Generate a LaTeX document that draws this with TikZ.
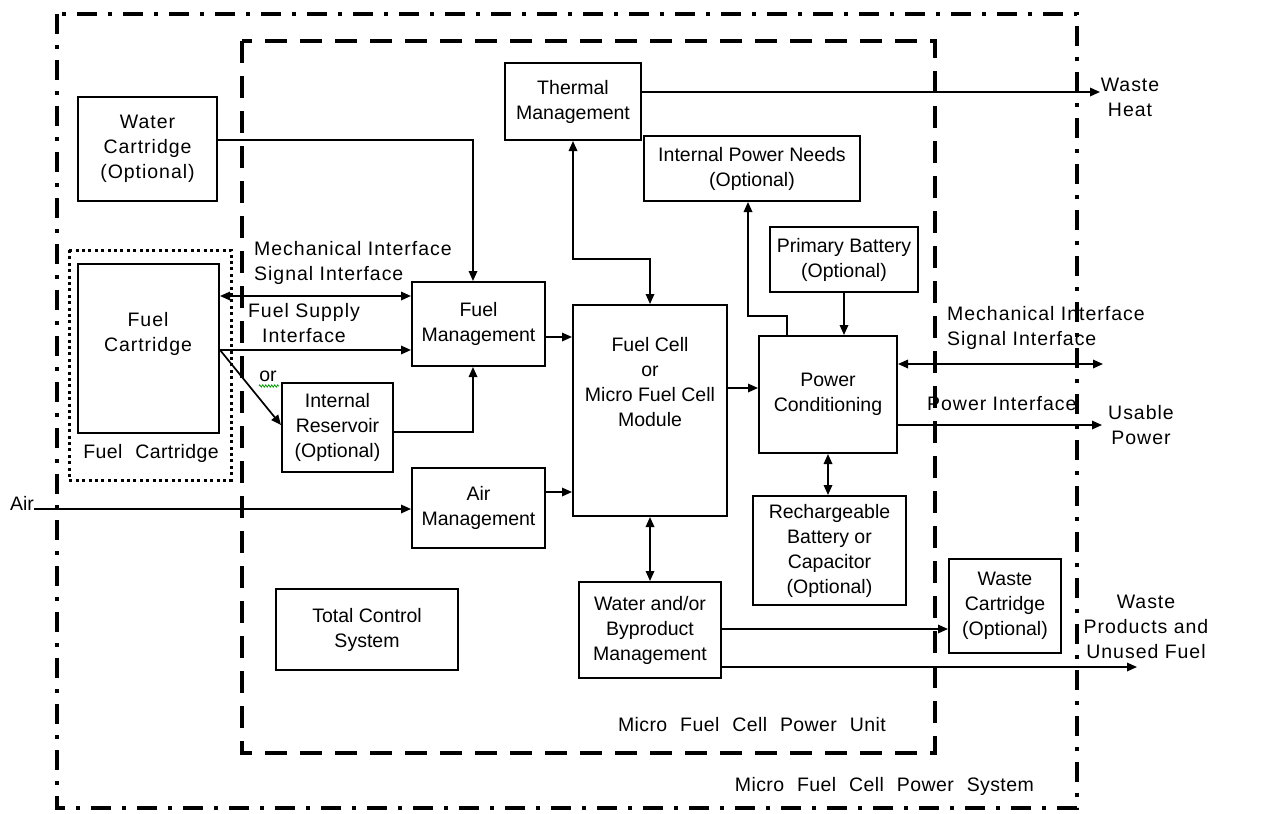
\documentclass[tikz,border=0pt]{standalone}
\usepackage{fontspec}
\setmainfont{Liberation Sans}
\usetikzlibrary{arrows.meta,decorations.pathmorphing}
\newcommand\mywidesp{\spaceskip 13pt plus 1pt\relax}
\begin{document}
\begin{tikzpicture}[x=1pt,y=-1pt,
  every node/.style={font=\fontsize{19.5}{25}\selectfont, align=center, inner sep=0pt},
  spaced/.style={font=\fontsize{19.5}{25}\selectfont\addfontfeature{LetterSpace=5}},
  widespaced/.style={font=\fontsize{19.5}{25}\selectfont\addfontfeature{LetterSpace=2}\mywidesp},
  box/.style={draw, line width=2pt, rectangle},
  arr/.style={line width=1.7pt, -{Triangle[length=10pt,width=8.5pt]}},
  dbl/.style={line width=1.7pt, {Triangle[length=10pt,width=8.5pt]}-{Triangle[length=10pt,width=8.5pt]}},
  sysframe/.style={line width=3.5pt, dash pattern=on 20pt off 11pt on 4pt off 11pt},
  unitframe/.style={line width=3.5pt, dash pattern=on 22pt off 13pt},
  cartframe/.style={line width=3pt, dash pattern=on 3pt off 3.4pt}
]
\useasboundingbox (0,0) rectangle (1272,814);

% frames
\draw[sysframe] (57,14) rectangle (1077,808);
\draw[unitframe] (242,41) rectangle (935,753);
\draw[cartframe] (69,250) rectangle (231,480);

% boxes
\node[box, spaced, minimum width=139pt, minimum height=104pt] (wc) at (147.5,149) {Water\\Cartridge\\(Optional)};
\node[box, minimum width=141pt, minimum height=169pt] (fcb) at (148.5,348.5) {};
\node[spaced] (fcbtext) at (148,334) {Fuel\\Cartridge};
\node[widespaced] (fcblabel) at (151,453) {Fuel Cartridge};
\node[box, minimum width=136pt, minimum height=77pt] (tm) at (573,101.5) {Thermal\\Management};
\node[box, minimum width=133pt, minimum height=84pt] (fm) at (478.5,324) {Fuel\\Management};
\node[box, minimum width=111pt, minimum height=89pt] (ir) at (337.5,427.5) {Internal\\Reservoir\\(Optional)};
\node[box, minimum width=133pt, minimum height=80pt] (am) at (478.5,508) {Air\\Management};
\node[box, minimum width=182pt, minimum height=81pt] (tcs) at (367,629.5) {Total Control\\System};
\node[box, minimum width=154pt, minimum height=211pt] (fc) at (650,410.5) {};
\node (fctext) at (650,382) {Fuel Cell\\or\\Micro Fuel Cell\\Module};
\node[box, minimum width=138pt, minimum height=117pt] (pc) at (828,394.5) {Power\\Conditioning};
\node[box, minimum width=153pt, minimum height=109pt] (rb) at (829.5,550.5) {Rechargeable\\Battery or\\Capacitor\\(Optional)};
\node[box, minimum width=142pt, minimum height=96pt] (wb) at (650,630) {Water and/or\\Byproduct\\Management};
\node[box, minimum width=216pt, minimum height=65pt] (ipn) at (752,168.5) {Internal Power Needs\\(Optional)};
\node[box, minimum width=148pt, minimum height=65pt] (pb) at (844,259.5) {Primary Battery\\(Optional)};
\node[box, minimum width=112pt, minimum height=94pt] (wcart) at (1005,606) {Waste\\Cartridge\\(Optional)};

% outside labels
\node (air) at (22,503) {Air};
\node[spaced] (wh) at (1130,97) {Waste\\Heat};
\node[spaced] (up) at (1141,425) {Usable\\Power};
\node[spaced] (wp) at (1146,627) {Waste\\Products and\\Unused Fuel};
\node[spaced, anchor=west, align=left] (mil) at (254,263) {Mechanical Interface\\Signal Interface};
\node[spaced] (fsi) at (304,323) {Fuel Supply\\Interface};
\node (orl) at (268,376) {or};
\node[spaced, anchor=west, align=left] (mir) at (947,328) {Mechanical Interface\\Signal Interface};
\node[spaced, anchor=west] (pi) at (927,404) {Power Interface};
\node[widespaced, anchor=east] (unitl) at (886,725) {Micro Fuel Cell Power Unit};
\node[widespaced, anchor=east] (sysl) at (1034,786) {Micro Fuel Cell Power System};

% green underline on "or"
\draw[green!60!black, line width=0.7pt, decorate, decoration={zigzag, segment length=3pt, amplitude=1.2pt}] (259,386) -- (279,386);

% helper coordinates
\coordinate (fmtop) at ([xshift=-5.5pt]fm.north);
\coordinate (fmbot) at ([xshift=-5.5pt]fm.south);
\coordinate (ipnb) at ([xshift=-4pt]ipn.south);
\coordinate (pcbend) at ([xshift=-41pt]pc.north);
\coordinate (mrt) at (1103,364);
\coordinate (upt) at (1102,425);
\coordinate (wht) at (1100,92);
\coordinate (wpt) at (1137,667);

% connectors
\draw[arr] (wc.east |- 0,140) -| (fmtop);
\draw[dbl] (fcb.east |- 0,296) -- (fm.west |- 0,296);
\draw[arr] (fcb.east |- 0,350) -- (fm.west |- 0,350);
\draw[arr] (fcb.east |- 0,350) -- (ir.west |- 0,425);
\draw[arr] (ir.east |- 0,432) -| (fmbot);
\draw[arr] (fm.east |- 0,337) -- (fc.west |- 0,337);
\draw[arr] (air.east |- 0,509) -- (am.west |- 0,509);
\draw[arr] (am.east |- 0,492) -- (fc.west |- 0,492);
\draw[dbl] (tm.south) -- (tm.south |- 0,259) -| (fc.north);
\draw[arr] (tm.east |- 0,92) -- (wht);
\draw[arr] (fc.east |- 0,388) -- (pc.west |- 0,388);
\draw[arr] (pcbend) |- (ipnb |- 0,316) -- (ipnb);
\draw[arr] (pb.south) -- (pb.south |- pc.north);
\draw[dbl] (pc.south) -- (pc.south |- rb.north);
\draw[dbl] (fc.south) -- (wb.north);
\draw[dbl] (pc.east |- 0,364) -- (mrt);
\draw[arr] (pc.east |- 0,425) -- (upt);
\draw[arr] (wb.east |- 0,629) -- (wcart.west |- 0,629);
\draw[arr] (wb.east |- 0,667) -- (wpt);
\end{tikzpicture}
\end{document}
